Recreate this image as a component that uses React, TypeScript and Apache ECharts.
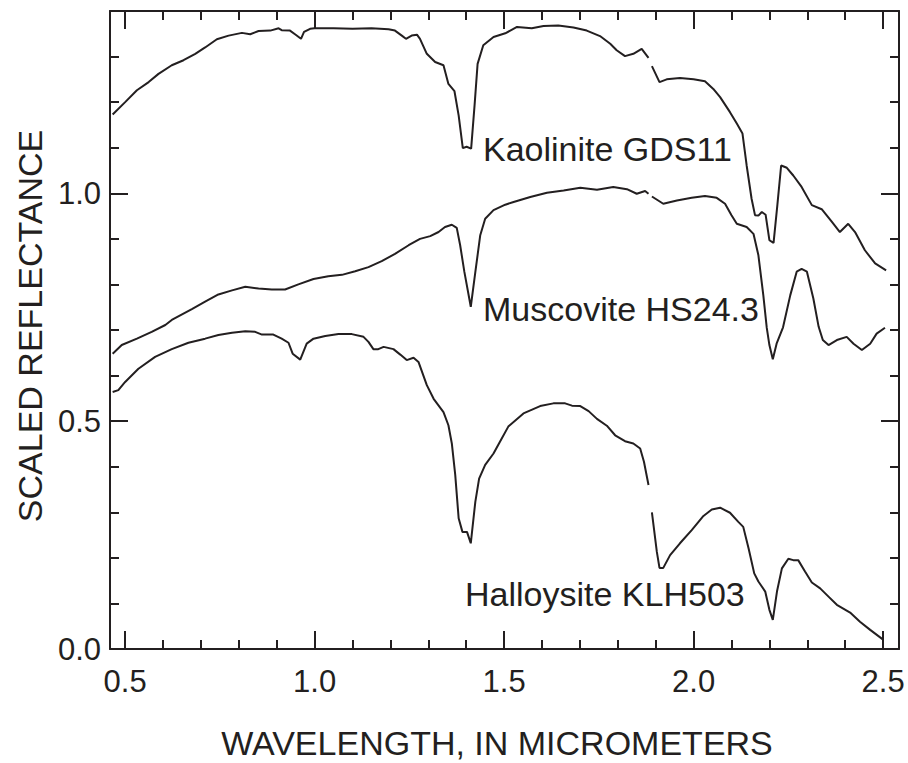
import React, { useEffect, useRef } from "react";
import * as echarts from "echarts";

// ---- data (wavelength in micrometers, scaled reflectance) ----
const kaolinite: (number | null)[][] = [
  [0.467, 1.173], [0.5, 1.2], [0.531, 1.226], [0.562, 1.244], [0.588, 1.262], [0.623, 1.281],
  [0.654, 1.292], [0.685, 1.306], [0.711, 1.32], [0.742, 1.338], [0.773, 1.346], [0.808, 1.352],
  [0.83, 1.349], [0.852, 1.356], [0.883, 1.357], [0.905, 1.362], [0.913, 1.358], [0.935, 1.357],
  [0.95, 1.348], [0.964, 1.339], [0.972, 1.354], [0.988, 1.361], [1.0, 1.362], [1.05, 1.362],
  [1.1, 1.361], [1.15, 1.362], [1.195, 1.36], [1.212, 1.357], [1.23, 1.346], [1.241, 1.339],
  [1.256, 1.346], [1.27, 1.348], [1.278, 1.339], [1.296, 1.306], [1.318, 1.288], [1.34, 1.281],
  [1.353, 1.24], [1.369, 1.224], [1.38, 1.171], [1.391, 1.099], [1.401, 1.102], [1.413, 1.098],
  [1.422, 1.193], [1.43, 1.284], [1.445, 1.325], [1.472, 1.343], [1.503, 1.351], [1.534, 1.365],
  [1.573, 1.362], [1.604, 1.367], [1.643, 1.368], [1.683, 1.364], [1.718, 1.357], [1.753, 1.345],
  [1.78, 1.328], [1.797, 1.314], [1.819, 1.301], [1.841, 1.306], [1.863, 1.317], [1.881, 1.297],
  [1.885, null],
  [1.89, 1.279], [1.91, 1.244], [1.929, 1.25], [1.964, 1.253], [2.0, 1.25], [2.03, 1.246],
  [2.052, 1.229], [2.07, 1.211], [2.096, 1.178], [2.114, 1.153], [2.129, 1.131], [2.14, 1.061],
  [2.153, 0.988], [2.162, 0.952], [2.171, 0.951], [2.18, 0.959], [2.19, 0.953], [2.2, 0.897],
  [2.211, 0.891], [2.221, 0.974], [2.231, 1.061], [2.246, 1.056], [2.263, 1.039], [2.285, 1.014],
  [2.312, 0.974], [2.338, 0.965], [2.365, 0.937], [2.386, 0.915], [2.408, 0.933], [2.426, 0.915],
  [2.452, 0.875], [2.479, 0.846], [2.508, 0.831],
];

const muscovite: (number | null)[][] = [
  [0.467, 0.648], [0.491, 0.667], [0.531, 0.681], [0.57, 0.696], [0.606, 0.711], [0.623, 0.722],
  [0.676, 0.746], [0.711, 0.762], [0.746, 0.778], [0.782, 0.787], [0.817, 0.795], [0.852, 0.791],
  [0.887, 0.789], [0.922, 0.789], [0.957, 0.8], [0.997, 0.812], [1.036, 0.818], [1.072, 0.821],
  [1.107, 0.829], [1.142, 0.838], [1.177, 0.851], [1.212, 0.867], [1.248, 0.886], [1.278, 0.9],
  [1.305, 0.906], [1.327, 0.915], [1.344, 0.926], [1.362, 0.931], [1.375, 0.924], [1.384, 0.886],
  [1.395, 0.828], [1.412, 0.751], [1.424, 0.827], [1.437, 0.908], [1.45, 0.944], [1.472, 0.963],
  [1.503, 0.975], [1.525, 0.981], [1.569, 0.992], [1.613, 1.001], [1.657, 1.006], [1.701, 1.012],
  [1.745, 1.008], [1.788, 1.014], [1.824, 1.009], [1.85, 0.999], [1.872, 1.005], [1.881, 0.999],
  [1.885, null],
  [1.89, 0.993], [1.92, 0.977], [1.956, 0.984], [1.995, 0.99], [2.03, 0.994], [2.061, 0.99],
  [2.083, 0.977], [2.1, 0.952], [2.114, 0.933], [2.14, 0.926], [2.158, 0.911], [2.171, 0.864],
  [2.184, 0.776], [2.193, 0.705], [2.2, 0.667], [2.209, 0.636], [2.219, 0.67], [2.236, 0.706],
  [2.255, 0.776], [2.272, 0.828], [2.285, 0.834], [2.299, 0.828], [2.316, 0.769], [2.33, 0.707],
  [2.341, 0.678], [2.356, 0.667], [2.378, 0.678], [2.404, 0.685], [2.422, 0.67], [2.444, 0.656],
  [2.466, 0.67], [2.483, 0.692], [2.505, 0.705],
];

const halloysite: (number | null)[][] = [
  [0.467, 0.564], [0.482, 0.568], [0.5, 0.586], [0.535, 0.615], [0.579, 0.641], [0.623, 0.658],
  [0.667, 0.672], [0.711, 0.681], [0.746, 0.689], [0.782, 0.694], [0.817, 0.697], [0.843, 0.696],
  [0.861, 0.69], [0.891, 0.69], [0.913, 0.681], [0.931, 0.672], [0.942, 0.648], [0.962, 0.635],
  [0.979, 0.67], [0.997, 0.681], [1.028, 0.687], [1.063, 0.691], [1.098, 0.691], [1.129, 0.685],
  [1.142, 0.674], [1.155, 0.658], [1.168, 0.658], [1.182, 0.663], [1.208, 0.658], [1.226, 0.646],
  [1.243, 0.634], [1.261, 0.639], [1.274, 0.63], [1.296, 0.579], [1.314, 0.549], [1.34, 0.52],
  [1.353, 0.491], [1.362, 0.451], [1.371, 0.382], [1.38, 0.287], [1.39, 0.257], [1.402, 0.257],
  [1.412, 0.232], [1.424, 0.323], [1.434, 0.374], [1.45, 0.404], [1.472, 0.429], [1.489, 0.455],
  [1.511, 0.488], [1.551, 0.517], [1.595, 0.533], [1.63, 0.539], [1.661, 0.539], [1.679, 0.534],
  [1.701, 0.533], [1.723, 0.522], [1.745, 0.505], [1.771, 0.49], [1.793, 0.469], [1.819, 0.456],
  [1.841, 0.451], [1.859, 0.44], [1.869, 0.411], [1.881, 0.36],
  [1.885, null],
  [1.89, 0.3], [1.903, 0.213], [1.91, 0.178], [1.92, 0.178], [1.938, 0.206], [1.964, 0.232],
  [1.995, 0.261], [2.026, 0.292], [2.048, 0.306], [2.07, 0.31], [2.096, 0.299], [2.118, 0.279],
  [2.131, 0.268], [2.145, 0.221], [2.16, 0.166], [2.171, 0.148], [2.189, 0.126], [2.2, 0.086],
  [2.209, 0.064], [2.22, 0.126], [2.233, 0.177], [2.25, 0.198], [2.263, 0.195], [2.276, 0.195],
  [2.294, 0.17], [2.312, 0.146], [2.334, 0.133], [2.356, 0.115], [2.378, 0.097], [2.413, 0.08],
  [2.439, 0.06], [2.466, 0.042], [2.501, 0.02],
];

const seriesNames = ["Kaolinite GDS11", "Muscovite HS24.3", "Halloysite KLH503"];

// ---- axis ticks ----
const xMajorTicks = [0.5, 1.0, 1.5, 2.0, 2.5];
const xMinorTicks = [0.6, 0.7, 0.8, 0.9, 1.1, 1.2, 1.3, 1.4, 1.6, 1.7, 1.8, 1.9, 2.1, 2.2, 2.3, 2.4];
const yMajorTicks = [0.0, 0.5, 1.0];
const yMinorTicks = [0.1, 0.2, 0.3, 0.4, 0.6, 0.7, 0.8, 0.9, 1.1, 1.2, 1.3];
const X_MIN = 0.46;
const X_MAX = 2.542;
const Y_MIN = 0;
const Y_MAX = 1.4;

const xTitle = "WAVELENGTH, IN MICROMETERS";
const yTitle = "SCALED REFLECTANCE";

const INK = "#231f20";
const FONT = "'Liberation Sans', Arial, Helvetica, sans-serif";

function makeAxis(
  kind: "x" | "y",
  position: string,
  ticks: number[],
  len: number,
  showLine: boolean,
  showLabels: boolean
) {
  return {
    type: "value",
    min: kind === "x" ? X_MIN : Y_MIN,
    max: kind === "x" ? X_MAX : Y_MAX,
    position,
    axisLine: { show: showLine, onZero: false, lineStyle: { color: INK, width: 2 } },
    axisTick: {
      show: true,
      inside: true,
      length: len,
      customValues: ticks,
      lineStyle: { color: INK, width: 2 },
    },
    axisLabel: showLabels
      ? {
          show: true,
          customValues: ticks,
          formatter: (v: number) => v.toFixed(1),
          fontSize: 31,
          fontFamily: FONT,
          color: INK,
          margin: kind === "x" ? 17 : 9,
        }
      : { show: false },
    splitLine: { show: false },
    minorTick: { show: false },
  };
}

export default function App() {
  const ref = useRef<HTMLDivElement>(null);

  useEffect(() => {
    if (!ref.current) return;
    document.body.style.margin = "0";
    const chart = echarts.init(ref.current, undefined, { renderer: "svg" });
    const datasets = [kaolinite, muscovite, halloysite];
    const labelPos = [
      { x: 483, y: 149 },
      { x: 483, y: 309 },
      { x: 465, y: 594 },
    ];
    chart.setOption({
      animation: false,
      backgroundColor: "#ffffff",
      grid: { left: 110, right: 9, top: 11, bottom: 114, containLabel: false },
      xAxis: [
        makeAxis("x", "bottom", xMajorTicks, 18, true, true),
        makeAxis("x", "bottom", xMinorTicks, 9, false, false),
        makeAxis("x", "top", xMajorTicks, 18, true, false),
        makeAxis("x", "top", xMinorTicks, 9, false, false),
      ],
      yAxis: [
        makeAxis("y", "left", yMajorTicks, 18, true, true),
        makeAxis("y", "left", yMinorTicks, 9, false, false),
        makeAxis("y", "right", yMajorTicks, 18, true, false),
        makeAxis("y", "right", yMinorTicks, 9, false, false),
      ],
      series: datasets.map((d, i) => ({
        name: seriesNames[i],
        type: "line",
        xAxisIndex: 0,
        yAxisIndex: 0,
        data: d,
        showSymbol: false,
        symbol: "none",
        connectNulls: false,
        lineStyle: { color: INK, width: 2 },
        z: 3,
      })),
      graphic: [
        ...seriesNames.map((name, i) => ({
          type: "text",
          x: labelPos[i].x,
          y: labelPos[i].y,
          style: {
            text: name,
            fontSize: 34,
            fontFamily: FONT,
            fill: INK,
            textAlign: "left",
            textVerticalAlign: "middle",
          },
        })),
        {
          type: "text",
          x: 497,
          y: 743,
          style: {
            text: xTitle,
            fontSize: 34,
            fontFamily: FONT,
            fill: INK,
            textAlign: "center",
            textVerticalAlign: "middle",
          },
        },
        {
          type: "text",
          x: 30,
          y: 326,
          rotation: Math.PI / 2,
          style: {
            text: yTitle,
            fontSize: 34,
            fontFamily: FONT,
            fill: INK,
            textAlign: "center",
            textVerticalAlign: "middle",
          },
        },
      ],
    });
    return () => chart.dispose();
  }, []);

  return (
    <div
      ref={ref}
      style={{ position: "absolute", left: 0, top: 0, width: 908, height: 763 }}
    />
  );
}
